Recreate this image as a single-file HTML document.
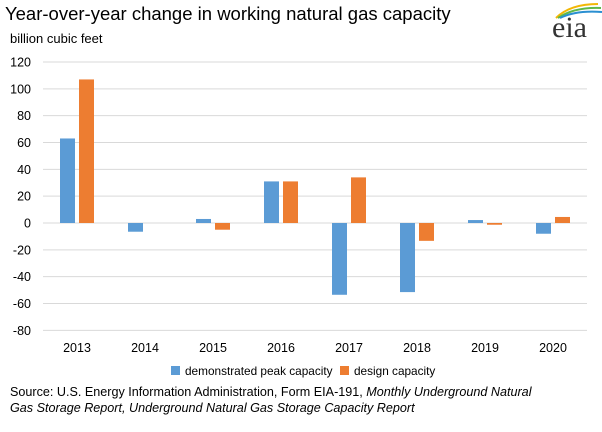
<!DOCTYPE html>
<html><head><meta charset="utf-8"><style>
body{margin:0;background:#fff;font-family:"Liberation Sans",sans-serif;}
#wrap{position:relative;width:602px;height:432px;overflow:hidden}
.t{position:absolute;white-space:nowrap;color:#000}
</style></head><body><div id="wrap">
<div class="t" style="left:5px;top:3px;font-size:18.5px">Year-over-year change in working natural gas capacity</div>
<div class="t" style="left:10px;top:31px;font-size:13px">billion cubic feet</div>
<svg style="position:absolute;left:548px;top:0" width="54" height="42">
<path d="M8 18 Q22 4 50 4" stroke="#f2b705" stroke-width="2" fill="none"/>
<path d="M10 18 Q26 7 53 8" stroke="#5fb84a" stroke-width="2" fill="none"/>
<path d="M12 18 Q28 10 54 12" stroke="#2a8fd1" stroke-width="2" fill="none"/>
<text x="4" y="37" font-family="Liberation Serif,serif" font-size="30" fill="#333">eia</text></svg>
<svg id="plot" width="602" height="432" style="position:absolute;left:0;top:0"></svg>
<div class="t" style="left:171px;top:364px;font-size:11.8px"><span style="display:inline-block;width:9px;height:9px;background:#5b9bd5;margin-right:5px"></span>demonstrated peak capacity</div>
<div class="t" style="left:340px;top:364px;font-size:11.8px"><span style="display:inline-block;width:9px;height:9px;background:#ed7d31;margin-right:5px"></span>design capacity</div>
<div class="t" style="left:10px;top:384px;font-size:12.6px;line-height:16px">Source: U.S. Energy Information Administration, Form EIA-191, <i>Monthly Underground Natural</i><br><i>Gas Storage Report, Underground Natural Gas Storage Capacity Report</i></div>
</div>
<script>
const categories=["2013","2014","2015","2016","2017","2018","2019","2020"];
const peakValues=[63,-6.5,3,31,-53.5,-51.5,2.2,-8];
const designValues=[107,0,-5,31,34,-13.3,-1.3,4.5];
const yTicks=[-80,-60,-40,-20,0,20,40,60,80,100,120];
const svg=document.getElementById('plot');const NS="http://www.w3.org/2000/svg";
const x0=43,x1=587,bw=(x1-x0)/categories.length;
const y=v=>223-v*(161/120);
function el(t,a){const e=document.createElementNS(NS,t);for(const k in a)e.setAttribute(k,a[k]);svg.appendChild(e);return e;}
yTicks.forEach(v=>{
const l=el('line',{x1:x0,x2:x1,y1:y(v),y2:y(v),stroke:'#d9d9d9','stroke-width':1});


const t=el('text',{x:31,y:y(v)+4.5,'text-anchor':'end','font-size':12.5,'font-family':'Liberation Sans,sans-serif'});t.textContent=v;


});
categories.forEach((c,i)=>{
const cx=x0+bw*(i+0.5);
const t=el('text',{x:cx,y:352,'text-anchor':'middle','font-size':12.5,'font-family':'Liberation Sans,sans-serif'});t.textContent=c;


[[peakValues[i],cx-17,'#5b9bd5','bar-peak-'+c],[designValues[i],cx+2,'#ed7d31','bar-design-'+c]].forEach(([v,bx,col,n])=>{
if(v===0)return;
const r=el('rect',{x:bx,width:15,y:Math.min(y(v),y(0)),height:Math.abs(y(v)-y(0)),fill:col});


});
});
</script></body></html>
